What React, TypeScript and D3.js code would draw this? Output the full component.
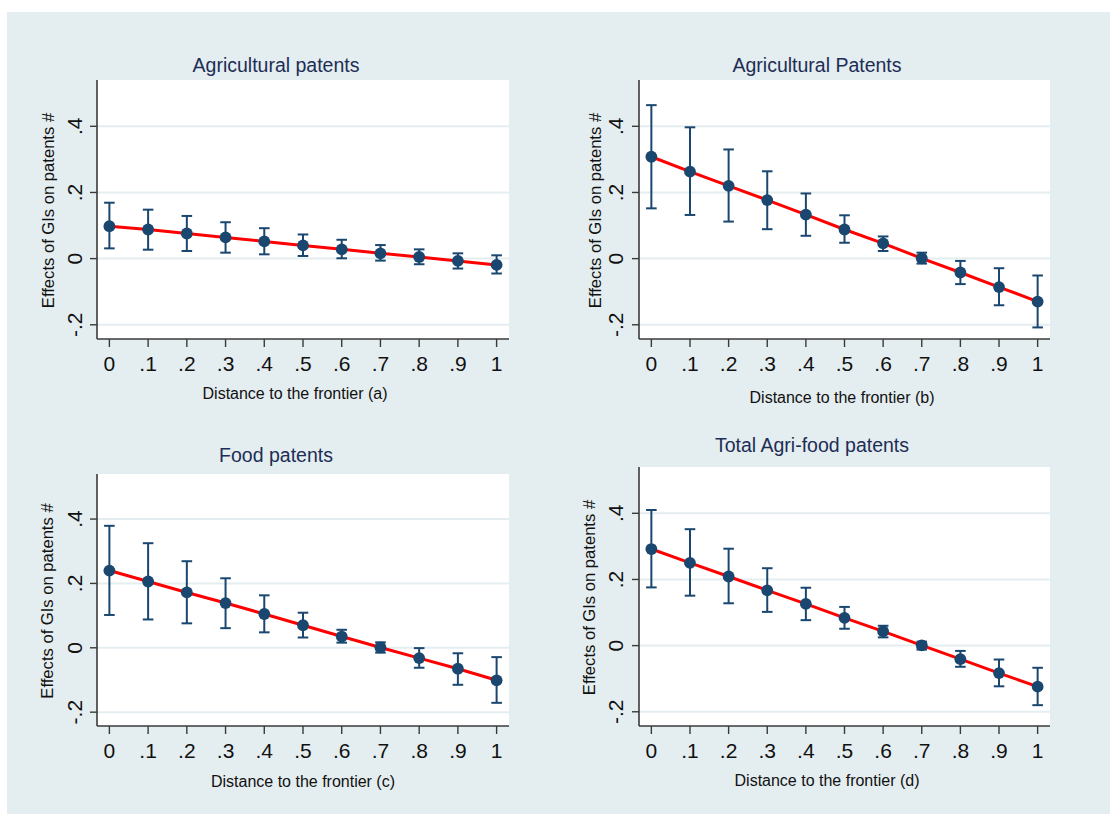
import * as d3 from 'd3';

// distance to the frontier values (shared x positions)
const distance = [0, 0.1, 0.2, 0.3, 0.4, 0.5, 0.6, 0.7, 0.8, 0.9, 1];
const xTickLabels = ['0', '.1', '.2', '.3', '.4', '.5', '.6', '.7', '.8', '.9', '1'];
const yTicks = [-0.2, 0, 0.2, 0.4];
const yTickLabels = ['-.2', '0', '.2', '.4'];

const titles = ['Agricultural patents', 'Agricultural Patents', 'Food patents', 'Total Agri-food patents'];
const xTitles = [
  'Distance to the frontier (a)',
  'Distance to the frontier (b)',
  'Distance to the frontier (c)',
  'Distance to the frontier (d)',
];
const yTitle = 'Effects of GIs on patents #';

// (a) agricultural patents
const estA = [0.098, 0.088, 0.076, 0.064, 0.052, 0.040, 0.028, 0.016, 0.005, -0.007, -0.019];
const hiA = [0.169, 0.148, 0.129, 0.110, 0.092, 0.073, 0.057, 0.041, 0.028, 0.016, 0.010];
const loA = [0.031, 0.027, 0.023, 0.018, 0.013, 0.008, 0.001, -0.006, -0.017, -0.030, -0.045];

// (b) agricultural Patents
const estB = [0.308, 0.263, 0.220, 0.177, 0.133, 0.088, 0.046, 0.001, -0.042, -0.086, -0.130];
const hiB = [0.464, 0.397, 0.330, 0.264, 0.197, 0.131, 0.067, 0.018, -0.007, -0.029, -0.051];
const loB = [0.152, 0.132, 0.112, 0.089, 0.069, 0.048, 0.023, -0.015, -0.077, -0.141, -0.208];

// (c) food patents
const estC = [0.240, 0.206, 0.172, 0.139, 0.105, 0.070, 0.035, 0.001, -0.032, -0.065, -0.101];
const hiC = [0.379, 0.325, 0.269, 0.216, 0.163, 0.109, 0.056, 0.017, -0.001, -0.017, -0.029];
const loC = [0.102, 0.088, 0.076, 0.061, 0.048, 0.032, 0.016, -0.015, -0.062, -0.115, -0.171];

// (d) total agri-food patents
const estD = [0.292, 0.250, 0.209, 0.167, 0.126, 0.084, 0.043, 0.001, -0.041, -0.083, -0.124];
const hiD = [0.410, 0.352, 0.293, 0.234, 0.175, 0.117, 0.060, 0.012, -0.016, -0.042, -0.067];
const loD = [0.176, 0.151, 0.128, 0.102, 0.077, 0.051, 0.025, -0.012, -0.064, -0.123, -0.180];

const estimates = [estA, estB, estC, estD];
const upper = [hiA, hiB, hiC, hiD];
const lower = [loA, loB, loC, loD];

// layout of each sub-graph (pixels)
const layouts = [
  { left: 97, right: 509, top: 80, bottom: 339, titleX: 276, titleY: 72, xTitleX: 295, xTitleY: 399, yLabX: 82, yTitleX: 54 },
  { left: 639, right: 1050, top: 80, bottom: 339, titleX: 817, titleY: 72, xTitleX: 842, xTitleY: 403, yLabX: 623, yTitleX: 601 },
  { left: 97, right: 509, top: 474, bottom: 726, titleX: 276, titleY: 462, xTitleX: 303, xTitleY: 787, yLabX: 82, yTitleX: 53 },
  { left: 639, right: 1050, top: 467, bottom: 726, titleX: 812, titleY: 452, xTitleX: 827, xTitleY: 786, yLabX: 623, yTitleX: 595 },
];

const navy = '#1a476f';
const bg = '#e4edf0';
const font = "'Liberation Sans', Arial, sans-serif";

const Panel = ({ i }: { i: number }) => {
  const L = layouts[i];
  const x = d3.scaleLinear().domain([-0.032, 1.032]).range([L.left, L.right]);
  const y = d3.scaleLinear().domain([-0.243, 0.54]).range([L.bottom, L.top]);
  const est = estimates[i];
  const line = d3.line<number>()
    .x((_, k) => x(distance[k]))
    .y(d => y(d));
  const yMid = (L.top + L.bottom) / 2;

  return (
    <g>
      <rect x={L.left} y={L.top} width={L.right - L.left} height={L.bottom - L.top} fill="#fff" />
      {yTicks.map(t => (
        <line key={'g' + t} x1={L.left} x2={L.right} y1={y(t)} y2={y(t)} stroke={bg} strokeWidth={2} />
      ))}
      {/* axes */}
      <line x1={L.left} x2={L.left} y1={L.top} y2={L.bottom} stroke="#3a3a3a" strokeWidth={1.6} />
      <line x1={L.left} x2={L.right} y1={L.bottom} y2={L.bottom} stroke="#3a3a3a" strokeWidth={1.6} />
      {yTicks.map((t, k) => (
        <g key={'y' + t}>
          <line x1={L.left - 7} x2={L.left} y1={y(t)} y2={y(t)} stroke="#3a3a3a" strokeWidth={1.4} />
          <text transform={`translate(${L.yLabX},${y(t)}) rotate(-90)`} textAnchor="middle"
            fontSize={21} fontFamily={font} fill="#111">{yTickLabels[k]}</text>
        </g>
      ))}
      {distance.map((d, k) => (
        <g key={'x' + d}>
          <line x1={x(d)} x2={x(d)} y1={L.bottom} y2={L.bottom + 8} stroke="#3a3a3a" strokeWidth={1.4} />
          <text x={x(d)} y={L.bottom + 32} textAnchor="middle" fontSize={21} fontFamily={font} fill="#111">
            {xTickLabels[k]}
          </text>
        </g>
      ))}
      {/* error bars */}
      {distance.map((d, k) => (
        <g key={'e' + d} stroke={navy} strokeWidth={2}>
          <line x1={x(d)} x2={x(d)} y1={y(upper[i][k])} y2={y(lower[i][k])} />
          <line x1={x(d) - 5.3} x2={x(d) + 5.3} y1={y(upper[i][k])} y2={y(upper[i][k])} />
          <line x1={x(d) - 5.3} x2={x(d) + 5.3} y1={y(lower[i][k])} y2={y(lower[i][k])} />
        </g>
      ))}
      <path d={line(est) || ''} fill="none" stroke="#ff0000" strokeWidth={3} />
      {distance.map((d, k) => (
        <circle key={'c' + d} cx={x(d)} cy={y(est[k])} r={5.9} fill={navy} />
      ))}
      {/* titles */}
      <text x={L.titleX} y={L.titleY} textAnchor="middle" fontSize={19.5} fontFamily={font} fill="#1e2d55">
        {titles[i]}
      </text>
      <text x={L.xTitleX} y={L.xTitleY} textAnchor="middle" fontSize={16} fontFamily={font} fill="#111">
        {xTitles[i]}
      </text>
      <text transform={`translate(${L.yTitleX},${yMid + 1}) rotate(-90)`} textAnchor="middle"
        fontSize={16.6} fontFamily={font} fill="#111">{yTitle}</text>
    </g>
  );
};

export default function App() {
  return (
    <svg width={1110} height={814} style={{ position: 'absolute', left: 0, top: 0, display: 'block' }}>
      <rect x={0} y={0} width={1110} height={814} fill="#fff" />
      <rect x={7} y={12} width={1103} height={802} fill={bg} />
      {titles.map((_, i) => <Panel key={i} i={i} />)}
    </svg>
  );
}
